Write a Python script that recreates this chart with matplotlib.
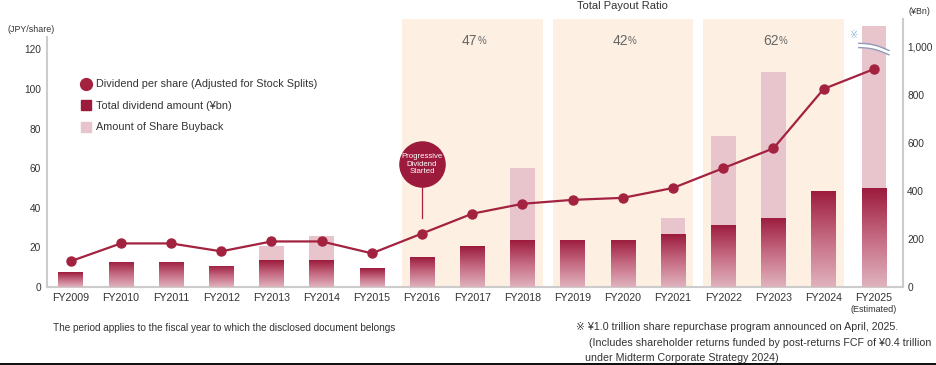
import numpy as np
import matplotlib
matplotlib.use("Agg")
import matplotlib.pyplot as plt
from matplotlib.lines import Line2D
from matplotlib.patches import Rectangle
from matplotlib.colors import LinearSegmentedColormap

plt.rcParams['font.family'] = ['Liberation Sans', 'DejaVu Sans', 'Noto Sans CJK JP']

# ---- data ----
years = ["FY2009", "FY2010", "FY2011", "FY2012", "FY2013", "FY2014", "FY2015", "FY2016",
         "FY2017", "FY2018", "FY2019", "FY2020", "FY2021", "FY2022", "FY2023", "FY2024", "FY2025"]
dps = [13, 22, 22, 18, 23, 23, 17, 27, 37, 42, 44, 45, 50, 60, 70, 100, 110]          # JPY/share
total_dividend = [61, 106, 106, 89, 112, 112, 79, 124, 170, 195, 196, 197, 219, 258, 288, 400, 410]  # ¥bn
buyback = [0, 0, 0, 0, 58, 101, 0, 0, 0, 300, 0, 0, 70, 370, 607, 0, 1000]   # ¥bn
payout_groups = [("FY2016", "FY2018", "47"), ("FY2019", "FY2021", "42"), ("FY2022", "FY2024", "62")]
break_top = 1087   # displayed top of the truncated FY2025 bar (¥bn)

dark = "#9c1b3d"
line_c = "#a3223f"
pink = "#e8c4cd"
peach = "#fdf0e2"
spine_c = "#cccccc"
txt_c = "#333333"

W, H = 936, 365
fig = plt.figure(figsize=(W / 100, H / 100), dpi=100)
ax = fig.add_axes([47 / W, 1 - 287 / H, (903 - 47) / W, (287 - 19) / H])  # bars (¥bn, right)
ax2 = ax.twinx()                                                        # dividend per share (left)

x = np.arange(len(years))
xl = (-0.47, 16.58)
yl_bn = (0, 1115)
yl_jpy = (0, 135.3)

# shaded payout ratio blocks
for a, b, pct in payout_groups:
    i0, i1 = years.index(a), years.index(b)
    ax.axvspan(i0 - 0.4, i1 + 0.4, color=peach, zorder=0, lw=0)
    xc = (i0 + i1) / 2
    ax.text(xc + 0.1, 1025, pct, ha="right", va="center", fontsize=10, color="#666666")
    ax.text(xc + 0.1, 1022, "%", ha="left", va="center", fontsize=7, color="#666666")

# bars
bw = 0.49
shown_buy = [min(b, break_top - d) for b, d in zip(buyback, total_dividend)]
ax.bar(x, shown_buy, bw, bottom=total_dividend, color=pink, zorder=2, lw=0)
bars = ax.bar(x, total_dividend, bw, color=dark, zorder=2, lw=0)
cmap = LinearSegmentedColormap.from_list("g", ["#e0b3be", "#c56a82", dark])
grad = np.linspace(0, 1, 256).reshape(-1, 1)
for rect in bars:
    x0 = rect.get_x()
    h = rect.get_height()
    im = ax.imshow(grad, extent=[x0, x0 + rect.get_width(), 0, h], origin="lower",
                   cmap=cmap, aspect="auto", zorder=3)
    im.set_clip_path(rect)

# break mark on FY2025
i25 = years.index("FY2025")
xs = np.linspace(i25 - 0.3, i25 + 0.3, 60)
t = (xs - xs[0]) / (xs[-1] - xs[0])
wave = 8 * np.sin(t * np.pi) - 30 * t
base = 1005
ax.fill_between(xs, base + wave - 9, base + wave + 9, color="white", zorder=5, lw=0)
ax.plot(xs, base + wave + 9, color="#8f9bb8", lw=1.0, zorder=6)
ax.plot(xs, base + wave - 9, color="#8f9bb8", lw=1.0, zorder=6)
ax.text(i25 - 0.42, 1050, "※", fontsize=7, color="#8fb3d9", ha="center", va="center",
        family=['DejaVu Sans'])

ax.set_xlim(*xl)
ax.set_ylim(*yl_bn)
ax2.set_ylim(*yl_jpy)

# dividend per share line
ax2.plot(x, dps, color=line_c, lw=1.6, marker="o", markersize=6.5, zorder=5)

# progressive dividend annotation
i16 = years.index("FY2016")
ax2.plot([i16, i16], [35, 52], color=line_c, lw=0.9, zorder=5)
ax2.plot([i16], [62], marker="o", markersize=32.5, color=dark, zorder=6, lw=0)
ax2.text(i16, 62, "Progressive\nDividend\nStarted", ha="center", va="center", color="white",
         fontsize=5.6, linespacing=1.05, zorder=7)

# axes styling
ax.yaxis.tick_right()
ax2.yaxis.tick_left()
ax.set_xticks(x)
ax.set_xticklabels(years)
ax.set_yticks([0, 200, 400, 600, 800, 1000])
ax.set_yticklabels(["0", "200", "400", "600", "800", "1,000"])
ax2.set_yticks([0, 20, 40, 60, 80, 100, 120])
for a_ in (ax, ax2):
    a_.tick_params(length=0, colors=txt_c)
    for s in a_.spines.values():
        s.set_visible(False)
ax.tick_params(axis="x", pad=4, labelsize=7.7)
ax.tick_params(axis="y", pad=3, labelsize=7.3)
ax2.tick_params(axis="y", pad=4.3, labelsize=7.3)
ax.spines["bottom"].set_visible(True)
ax.spines["bottom"].set_color(spine_c)
ax.spines["bottom"].set_linewidth(1.5)
ax.spines["right"].set_visible(True)
ax.spines["right"].set_color(spine_c)
ax.spines["right"].set_linewidth(1.5)
ax2.spines["left"].set_visible(True)
ax2.spines["left"].set_color(spine_c)
ax2.spines["left"].set_linewidth(1.5)
ax2.spines["left"].set_bounds(0, 126)
ax2.patch.set_visible(False)

ax.text(i25, -95, "(Estimated)", ha="center", va="center", fontsize=6.5, color=txt_c)

# legend
handles = [Line2D([], [], marker="o", ls="", color=line_c, markersize=8.5),
           Line2D([], [], marker="s", ls="", color=dark, markersize=7),
           Line2D([], [], marker="s", ls="", color=pink, markersize=7)]
labels = ["Dividend per share (Adjusted for Stock Splits)", "Total dividend amount (¥bn)",
          "Amount of Share Buyback"]
fig.legend(handles, labels, loc="upper left", bbox_to_anchor=(74 / W, 1 - 74 / H), frameon=False,
           fontsize=7.8, labelspacing=1.06, handletextpad=0.35, handlelength=1.2, borderpad=0,
           labelcolor=txt_c)

# titles & notes
fig.text(622 / W, 1 - 6 / H, "Total Payout Ratio", ha="center", va="center", fontsize=8, color=txt_c)
fig.text(7 / W, 1 - 29 / H, "(JPY/share)", ha="left", va="center", fontsize=6.4, color=txt_c)
fig.text(919 / W, 1 - 12 / H, "(¥Bn)", ha="center", va="center", fontsize=6.4, color=txt_c)
fig.text(53 / W, 1 - 328 / H, "The period applies to the fiscal year to which the disclosed document belongs",
         ha="left", va="center", fontsize=7.2, color=txt_c)
fig.text(576 / W, 1 - 327 / H, "※ ¥1.0 trillion share repurchase program announced on April, 2025.",
         ha="left", va="center", fontsize=7.7, color=txt_c)
fig.text(589 / W, 1 - 343 / H, "(Includes shareholder returns funded by post-returns FCF of ¥0.4 trillion",
         ha="left", va="center", fontsize=7.7, color=txt_c)
fig.text(585 / W, 1 - 358 / H, "under Midterm Corporate Strategy 2024)",
         ha="left", va="center", fontsize=7.7, color=txt_c)

# dark bottom border seen in the reference
fig.add_artist(Rectangle((0, 0), 1, 2.5 / H, transform=fig.transFigure, color="#111111", lw=0))

fig.savefig("out.png", dpi=100)
